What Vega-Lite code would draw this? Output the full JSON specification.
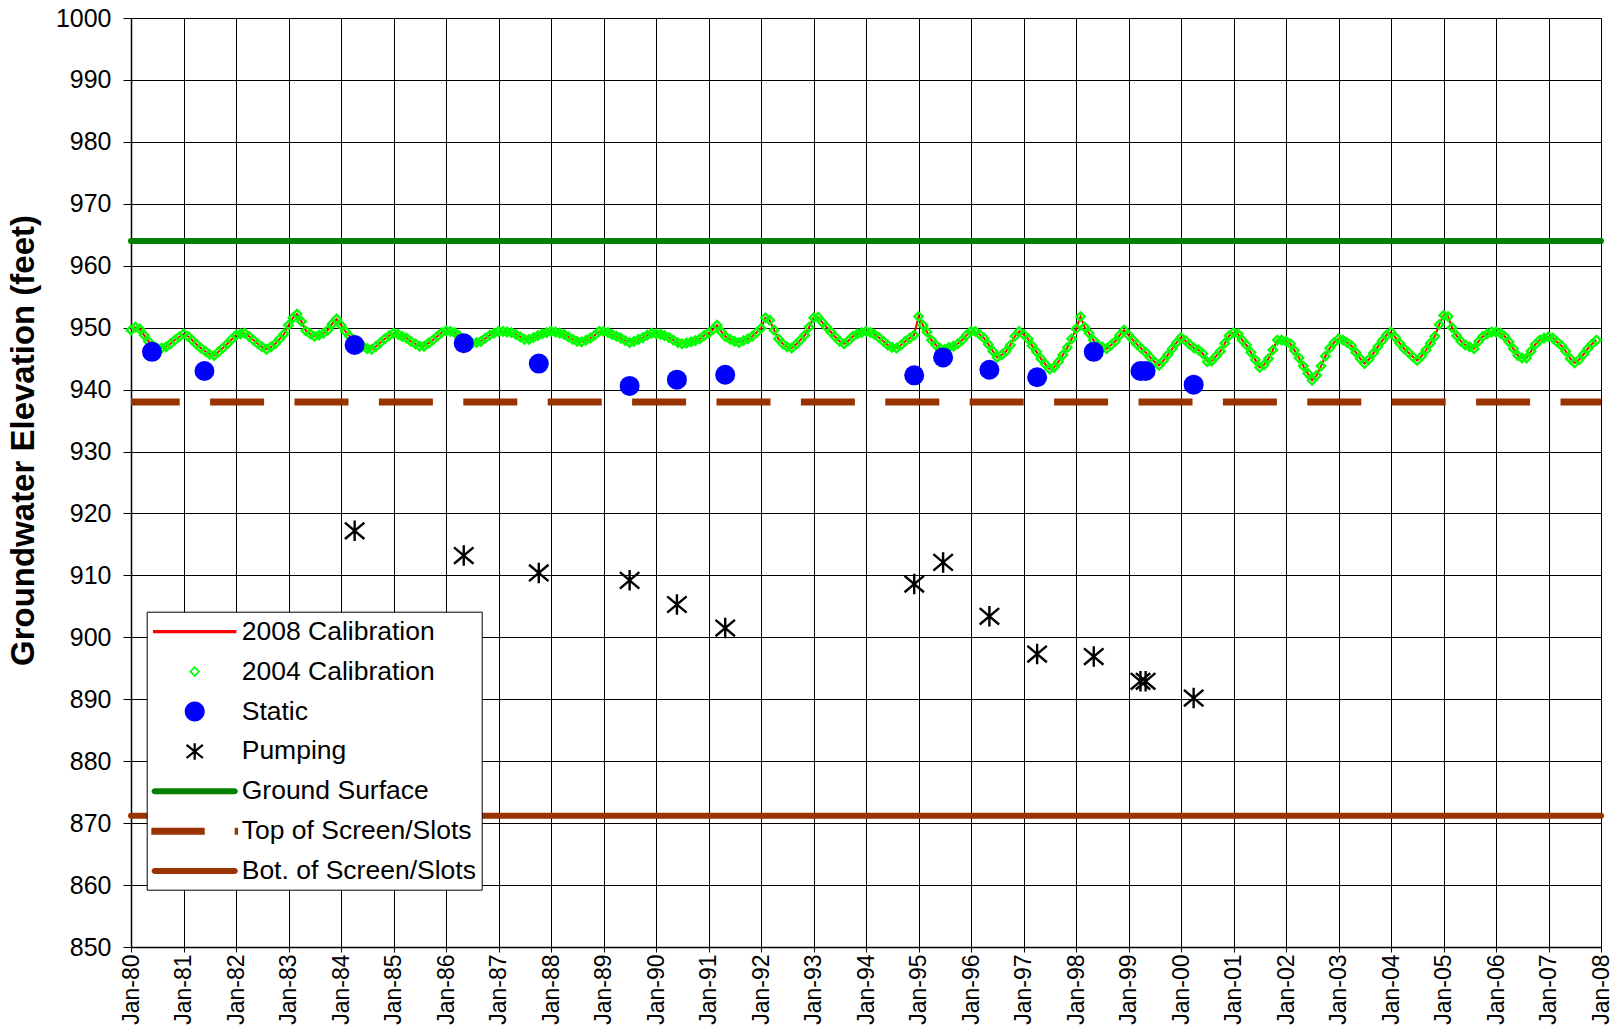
{
"$schema":"https://vega.github.io/schema/vega-lite/v6.json",
"width":1470,"height":929,
"autosize":{"type":"none"},
"padding":{"left":131,"top":18,"right":15,"bottom":83},
"background":"white",
"config":{"view":{"stroke":"#808080","strokeWidth":1},"font":"Liberation Sans"},
"datasets":{
"gs":[{"v":964}],
"top":[{"v":938}],
"bot":[{"v":871.2}],
"cal":[
{"d":"1980-01","v":949.6},{"d":"1980-02","v":950.1},{"d":"1980-03","v":949.8},{"d":"1980-04","v":948.8},{"d":"1980-05","v":947.8},{"d":"1980-06","v":947.1},{"d":"1980-07","v":946.7},{"d":"1980-08","v":946.7},{"d":"1980-09","v":946.9},{"d":"1980-10","v":947.4},{"d":"1980-11","v":948.0},{"d":"1980-12","v":948.5},
{"d":"1981-01","v":949.0},{"d":"1981-02","v":948.6},{"d":"1981-03","v":948.0},{"d":"1981-04","v":947.3},{"d":"1981-05","v":946.7},{"d":"1981-06","v":946.2},{"d":"1981-07","v":945.7},{"d":"1981-08","v":945.5},{"d":"1981-09","v":946.1},{"d":"1981-10","v":946.7},{"d":"1981-11","v":947.4},{"d":"1981-12","v":948.1},
{"d":"1982-01","v":948.8},{"d":"1982-02","v":949.0},{"d":"1982-03","v":949.1},{"d":"1982-04","v":948.6},{"d":"1982-05","v":948.0},{"d":"1982-06","v":947.4},{"d":"1982-07","v":946.9},{"d":"1982-08","v":946.5},{"d":"1982-09","v":946.9},{"d":"1982-10","v":947.4},{"d":"1982-11","v":948.2},{"d":"1982-12","v":949.0},
{"d":"1983-01","v":950.4},{"d":"1983-02","v":951.6},{"d":"1983-03","v":952.2},{"d":"1983-04","v":951.0},{"d":"1983-05","v":949.5},{"d":"1983-06","v":949.0},{"d":"1983-07","v":948.6},{"d":"1983-08","v":948.8},{"d":"1983-09","v":949.1},{"d":"1983-10","v":949.6},{"d":"1983-11","v":950.6},{"d":"1983-12","v":951.4},
{"d":"1984-01","v":950.4},{"d":"1984-02","v":949.4},{"d":"1984-03","v":948.6},{"d":"1984-04","v":948.0},{"d":"1984-05","v":947.5},{"d":"1984-06","v":947.0},{"d":"1984-07","v":946.6},{"d":"1984-08","v":946.5},{"d":"1984-09","v":947.0},{"d":"1984-10","v":947.6},{"d":"1984-11","v":948.2},{"d":"1984-12","v":948.7},
{"d":"1985-01","v":949.1},{"d":"1985-02","v":948.9},{"d":"1985-03","v":948.6},{"d":"1985-04","v":948.3},{"d":"1985-05","v":947.8},{"d":"1985-06","v":947.4},{"d":"1985-07","v":947.0},{"d":"1985-08","v":947.0},{"d":"1985-09","v":947.5},{"d":"1985-10","v":948.0},{"d":"1985-11","v":948.6},{"d":"1985-12","v":949.2},
{"d":"1986-01","v":949.5},{"d":"1986-02","v":949.4},{"d":"1986-03","v":949.2},{"d":"1986-04","v":948.7},{"d":"1986-05","v":948.1},{"d":"1986-06","v":947.6},{"d":"1986-07","v":947.5},{"d":"1986-08","v":947.6},{"d":"1986-09","v":947.8},{"d":"1986-10","v":948.3},{"d":"1986-11","v":948.8},{"d":"1986-12","v":949.1},
{"d":"1987-01","v":949.4},{"d":"1987-02","v":949.4},{"d":"1987-03","v":949.3},{"d":"1987-04","v":949.2},{"d":"1987-05","v":948.9},{"d":"1987-06","v":948.5},{"d":"1987-07","v":948.1},{"d":"1987-08","v":948.1},{"d":"1987-09","v":948.4},{"d":"1987-10","v":948.7},{"d":"1987-11","v":949.0},{"d":"1987-12","v":949.2},
{"d":"1988-01","v":949.4},{"d":"1988-02","v":949.3},{"d":"1988-03","v":949.1},{"d":"1988-04","v":948.9},{"d":"1988-05","v":948.5},{"d":"1988-06","v":948.1},{"d":"1988-07","v":947.8},{"d":"1988-08","v":947.7},{"d":"1988-09","v":948.0},{"d":"1988-10","v":948.3},{"d":"1988-11","v":948.8},{"d":"1988-12","v":949.4},
{"d":"1989-01","v":949.4},{"d":"1989-02","v":949.2},{"d":"1989-03","v":948.9},{"d":"1989-04","v":948.6},{"d":"1989-05","v":948.3},{"d":"1989-06","v":947.9},{"d":"1989-07","v":947.6},{"d":"1989-08","v":947.8},{"d":"1989-09","v":948.1},{"d":"1989-10","v":948.4},{"d":"1989-11","v":948.8},{"d":"1989-12","v":949.1},
{"d":"1990-01","v":949.0},{"d":"1990-02","v":948.9},{"d":"1990-03","v":948.7},{"d":"1990-04","v":948.4},{"d":"1990-05","v":948.0},{"d":"1990-06","v":947.6},{"d":"1990-07","v":947.4},{"d":"1990-08","v":947.5},{"d":"1990-09","v":947.7},{"d":"1990-10","v":947.9},{"d":"1990-11","v":948.2},{"d":"1990-12","v":948.7},
{"d":"1991-01","v":949.1},{"d":"1991-02","v":949.7},{"d":"1991-03","v":950.4},{"d":"1991-04","v":949.3},{"d":"1991-05","v":948.5},{"d":"1991-06","v":948.1},{"d":"1991-07","v":947.8},{"d":"1991-08","v":947.6},{"d":"1991-09","v":947.9},{"d":"1991-10","v":948.2},{"d":"1991-11","v":948.6},{"d":"1991-12","v":949.2},
{"d":"1992-01","v":949.9},{"d":"1992-02","v":951.6},{"d":"1992-03","v":951.2},{"d":"1992-04","v":949.6},{"d":"1992-05","v":948.2},{"d":"1992-06","v":947.4},{"d":"1992-07","v":946.9},{"d":"1992-08","v":946.7},{"d":"1992-09","v":947.3},{"d":"1992-10","v":948.0},{"d":"1992-11","v":948.8},{"d":"1992-12","v":950.1},
{"d":"1993-01","v":951.6},{"d":"1993-02","v":951.7},{"d":"1993-03","v":950.9},{"d":"1993-04","v":950.1},{"d":"1993-05","v":949.3},{"d":"1993-06","v":948.5},{"d":"1993-07","v":947.8},{"d":"1993-08","v":947.4},{"d":"1993-09","v":947.9},{"d":"1993-10","v":948.6},{"d":"1993-11","v":949.0},{"d":"1993-12","v":949.2},
{"d":"1994-01","v":949.4},{"d":"1994-02","v":949.2},{"d":"1994-03","v":948.9},{"d":"1994-04","v":948.4},{"d":"1994-05","v":947.8},{"d":"1994-06","v":947.2},{"d":"1994-07","v":946.8},{"d":"1994-08","v":946.7},{"d":"1994-09","v":947.2},{"d":"1994-10","v":947.8},{"d":"1994-11","v":948.3},{"d":"1994-12","v":948.8},
{"d":"1995-01","v":951.8},{"d":"1995-02","v":950.4},{"d":"1995-03","v":949.3},{"d":"1995-04","v":948.0},{"d":"1995-05","v":947.2},{"d":"1995-06","v":946.6},{"d":"1995-07","v":946.5},{"d":"1995-08","v":946.8},{"d":"1995-09","v":947.0},{"d":"1995-10","v":947.4},{"d":"1995-11","v":948.0},{"d":"1995-12","v":948.8},
{"d":"1996-01","v":949.4},{"d":"1996-02","v":949.4},{"d":"1996-03","v":948.9},{"d":"1996-04","v":948.3},{"d":"1996-05","v":947.3},{"d":"1996-06","v":946.2},{"d":"1996-07","v":945.2},{"d":"1996-08","v":945.6},{"d":"1996-09","v":946.2},{"d":"1996-10","v":947.2},{"d":"1996-11","v":948.6},{"d":"1996-12","v":949.4},
{"d":"1997-01","v":948.9},{"d":"1997-02","v":948.2},{"d":"1997-03","v":947.1},{"d":"1997-04","v":946.1},{"d":"1997-05","v":945.0},{"d":"1997-06","v":944.1},{"d":"1997-07","v":943.3},{"d":"1997-08","v":943.6},{"d":"1997-09","v":944.5},{"d":"1997-10","v":945.6},{"d":"1997-11","v":946.8},{"d":"1997-12","v":948.2},
{"d":"1998-01","v":949.8},{"d":"1998-02","v":951.8},{"d":"1998-03","v":950.1},{"d":"1998-04","v":949.1},{"d":"1998-05","v":948.0},{"d":"1998-06","v":947.2},{"d":"1998-07","v":946.9},{"d":"1998-08","v":946.6},{"d":"1998-09","v":947.2},{"d":"1998-10","v":947.8},{"d":"1998-11","v":948.8},{"d":"1998-12","v":949.6},
{"d":"1999-01","v":948.8},{"d":"1999-02","v":948.0},{"d":"1999-03","v":947.3},{"d":"1999-04","v":946.6},{"d":"1999-05","v":946.0},{"d":"1999-06","v":945.2},{"d":"1999-07","v":944.5},{"d":"1999-08","v":943.9},{"d":"1999-09","v":944.7},{"d":"1999-10","v":945.6},{"d":"1999-11","v":946.6},{"d":"1999-12","v":947.6},
{"d":"2000-01","v":948.4},{"d":"2000-02","v":947.9},{"d":"2000-03","v":947.3},{"d":"2000-04","v":946.7},{"d":"2000-05","v":946.4},{"d":"2000-06","v":945.8},{"d":"2000-07","v":944.5},{"d":"2000-08","v":944.6},{"d":"2000-09","v":945.4},{"d":"2000-10","v":946.2},{"d":"2000-11","v":947.5},{"d":"2000-12","v":948.7},
{"d":"2001-01","v":949.2},{"d":"2001-02","v":949.0},{"d":"2001-03","v":948.0},{"d":"2001-04","v":947.2},{"d":"2001-05","v":946.0},{"d":"2001-06","v":944.8},{"d":"2001-07","v":943.6},{"d":"2001-08","v":944.0},{"d":"2001-09","v":945.0},{"d":"2001-10","v":946.4},{"d":"2001-11","v":948.0},{"d":"2001-12","v":948.0},
{"d":"2002-01","v":947.8},{"d":"2002-02","v":947.4},{"d":"2002-03","v":946.3},{"d":"2002-04","v":945.1},{"d":"2002-05","v":943.8},{"d":"2002-06","v":942.6},{"d":"2002-07","v":941.5},{"d":"2002-08","v":942.3},{"d":"2002-09","v":943.8},{"d":"2002-10","v":945.4},{"d":"2002-11","v":946.7},{"d":"2002-12","v":947.6},
{"d":"2003-01","v":948.2},{"d":"2003-02","v":948.0},{"d":"2003-03","v":947.6},{"d":"2003-04","v":947.1},{"d":"2003-05","v":946.0},{"d":"2003-06","v":945.0},{"d":"2003-07","v":944.2},{"d":"2003-08","v":944.9},{"d":"2003-09","v":945.9},{"d":"2003-10","v":946.9},{"d":"2003-11","v":947.9},{"d":"2003-12","v":948.8},
{"d":"2004-01","v":949.3},{"d":"2004-02","v":948.4},{"d":"2004-03","v":947.5},{"d":"2004-04","v":946.6},{"d":"2004-05","v":946.0},{"d":"2004-06","v":945.3},{"d":"2004-07","v":944.7},{"d":"2004-08","v":945.4},{"d":"2004-09","v":946.4},{"d":"2004-10","v":947.5},{"d":"2004-11","v":948.6},{"d":"2004-12","v":950.5},
{"d":"2005-01","v":952.0},{"d":"2005-02","v":951.8},{"d":"2005-03","v":950.0},{"d":"2005-04","v":948.7},{"d":"2005-05","v":947.8},{"d":"2005-06","v":947.2},{"d":"2005-07","v":946.9},{"d":"2005-08","v":946.6},{"d":"2005-09","v":947.8},{"d":"2005-10","v":948.6},{"d":"2005-11","v":949.0},{"d":"2005-12","v":949.3},
{"d":"2006-01","v":949.3},{"d":"2006-02","v":949.1},{"d":"2006-03","v":948.6},{"d":"2006-04","v":947.7},{"d":"2006-05","v":946.6},{"d":"2006-06","v":945.5},{"d":"2006-07","v":945.1},{"d":"2006-08","v":945.1},{"d":"2006-09","v":946.2},{"d":"2006-10","v":947.3},{"d":"2006-11","v":948.0},{"d":"2006-12","v":948.3},
{"d":"2007-01","v":948.5},{"d":"2007-02","v":948.3},{"d":"2007-03","v":947.7},{"d":"2007-04","v":947.1},{"d":"2007-05","v":946.2},{"d":"2007-06","v":945.0},{"d":"2007-07","v":944.3},{"d":"2007-08","v":944.8},{"d":"2007-09","v":945.7},{"d":"2007-10","v":946.6},{"d":"2007-11","v":947.4},{"d":"2007-12","v":948.0}
],
"stat":[
{"d":"1980-05-26","v":946.1},{"d":"1981-05-26","v":943.0},{"d":"1984-04-05","v":947.2},{"d":"1986-05-04","v":947.5},{"d":"1987-10-08","v":944.2},{"d":"1989-07-01","v":940.6},{"d":"1990-05-26","v":941.6},{"d":"1991-04-27","v":942.4},{"d":"1994-12-02","v":942.3},{"d":"1995-06-21","v":945.2},{"d":"1996-05-08","v":943.2},{"d":"1997-04-05","v":942.0},{"d":"1998-05-04","v":946.1},{"d":"1999-03-25","v":943.0},{"d":"1999-04-30","v":943.0},{"d":"2000-03-29","v":940.8}
],
"pump":[
{"d":"1984-04-05","v":917.2},{"d":"1986-05-04","v":913.2},{"d":"1987-10-08","v":910.4},{"d":"1989-07-01","v":909.2},{"d":"1990-05-26","v":905.3},{"d":"1991-04-27","v":901.5},{"d":"1994-12-02","v":908.6},{"d":"1995-06-21","v":912.1},{"d":"1996-05-08","v":903.4},{"d":"1997-04-05","v":897.3},{"d":"1998-05-04","v":896.9},{"d":"1999-03-25","v":892.9},{"d":"1999-04-30","v":892.9},{"d":"2000-03-29","v":890.2}
]
},
"layer":[
{"data":{"name":"gs"},"mark":{"type":"rule","color":"#008000","strokeWidth":6,"strokeCap":"round"},
 "encoding":{"y":{"field":"v","type":"quantitative","scale":{"domain":[850,1000],"nice":false,"zero":false},
   "axis":{"values":[850,860,870,880,890,900,910,920,930,940,950,960,970,980,990,1000],"format":"d","title":"Groundwater Elevation (feet)","titleFont":"Liberation Sans","titleFontSize":33,"titleFontWeight":"bold","titleColor":"black","titleX":-108,"titleY":422,"titleAlign":"center","titleBaseline":"middle","titleAngle":-90,
    "labelFont":"Liberation Sans","labelFontSize":25,"labelColor":"black","labelPadding":12,"tickSize":8,"tickColor":"black","domainColor":"black","domainWidth":1.5,"grid":true,"gridColor":"black","gridWidth":1,"labelOverlap":false}}}},
{"data":{"name":"bot"},"mark":{"type":"rule","color":"#993300","strokeWidth":6,"strokeCap":"round"},"encoding":{"y":{"field":"v","type":"quantitative"}}},
{"data":{"name":"top"},"mark":{"type":"rule","color":"#993300","strokeWidth":7,"strokeDash":[54,30.4],"strokeDashOffset":13.5},"encoding":{"y":{"field":"v","type":"quantitative"}}},
{"data":{"name":"cal"},"mark":{"type":"line","color":"#ff0000","strokeWidth":2},
 "encoding":{
  "x":{"field":"d","type":"temporal",
   "scale":{"type":"utc","domain":[{"year":1980,"month":1,"date":1,"utc":true},{"year":2008,"month":1,"date":1,"utc":true}]},
   "axis":{"values":[{"year":1980,"month":1,"date":1,"utc":true},{"year":1981,"month":1,"date":1,"utc":true},{"year":1982,"month":1,"date":1,"utc":true},{"year":1983,"month":1,"date":1,"utc":true},{"year":1984,"month":1,"date":1,"utc":true},{"year":1985,"month":1,"date":1,"utc":true},{"year":1986,"month":1,"date":1,"utc":true},{"year":1987,"month":1,"date":1,"utc":true},{"year":1988,"month":1,"date":1,"utc":true},{"year":1989,"month":1,"date":1,"utc":true},{"year":1990,"month":1,"date":1,"utc":true},{"year":1991,"month":1,"date":1,"utc":true},{"year":1992,"month":1,"date":1,"utc":true},{"year":1993,"month":1,"date":1,"utc":true},{"year":1994,"month":1,"date":1,"utc":true},{"year":1995,"month":1,"date":1,"utc":true},{"year":1996,"month":1,"date":1,"utc":true},{"year":1997,"month":1,"date":1,"utc":true},{"year":1998,"month":1,"date":1,"utc":true},{"year":1999,"month":1,"date":1,"utc":true},{"year":2000,"month":1,"date":1,"utc":true},{"year":2001,"month":1,"date":1,"utc":true},{"year":2002,"month":1,"date":1,"utc":true},{"year":2003,"month":1,"date":1,"utc":true},{"year":2004,"month":1,"date":1,"utc":true},{"year":2005,"month":1,"date":1,"utc":true},{"year":2006,"month":1,"date":1,"utc":true},{"year":2007,"month":1,"date":1,"utc":true},{"year":2008,"month":1,"date":1,"utc":true}],
    "format":"%b-%y","labelAngle":-90,"labelFont":"Liberation Sans","labelFontSize":23,"labelColor":"black","labelPadding":2,"tickSize":5,"tickColor":"black","domainColor":"black","domainWidth":1.5,"grid":true,"gridColor":"black","gridWidth":1,"title":null,"labelFlush":false,"labelOverlap":false}},
  "y":{"field":"v","type":"quantitative"}
 }},
{"data":{"name":"cal"},"mark":{"type":"point","shape":"diamond","filled":false,"color":"#00ff00","strokeWidth":2.4,"size":70,"opacity":1},"encoding":{"x":{"field":"d","type":"temporal"},"y":{"field":"v","type":"quantitative"}}},
{"data":{"name":"stat"},"mark":{"type":"point","shape":"circle","filled":true,"color":"#0000ff","size":400,"opacity":1},"encoding":{"x":{"field":"d","type":"temporal"},"y":{"field":"v","type":"quantitative"}}},
{"data":{"name":"pump"},"mark":{"type":"point","shape":"M0,-1L0,1M-0.95,-0.8L0.95,0.8M-0.95,0.8L0.95,-0.8","filled":false,"color":"#000000","strokeWidth":2.4,"size":420,"opacity":1},"encoding":{"x":{"field":"d","type":"temporal"},"y":{"field":"v","type":"quantitative"}}},
{"data":{"values":[]},"mark":{"type":"point","filled":true,"opacity":1,"strokeWidth":0},
 "encoding":{
  "fill":{"field":"s","type":"nominal",
   "scale":{"domain":["2008 Calibration","2004 Calibration","Static","Pumping","Ground Surface","Top of Screen/Slots","Bot. of Screen/Slots"],"range":["#ff0000","#00ff00","#0000ff","#000000","#008000","#993300","#993300"]},
   "legend":{"title":null,"orient":"none","legendX":15.7,"legendY":593.7,"direction":"vertical","symbolSize":900,"symbolStrokeWidth":0,"symbolOffset":28,"labelOffset":32,"labelFont":"Liberation Sans","labelFontSize":26.5,"labelColor":"black","labelLimit":500,"rowPadding":10.9,"padding":5,"strokeColor":"black","fillColor":"white","cornerRadius":0,"symbolOpacity":1}},
  "shape":{"field":"s","type":"nominal",
   "scale":{"domain":["2008 Calibration","2004 Calibration","Static","Pumping","Ground Surface","Top of Screen/Slots","Bot. of Screen/Slots"],"range":[
    "M-2.78,-0.11H2.78V0.11H-2.78Z",
    "M0,-0.37L0.37,0L0,0.37L-0.37,0ZM0,-0.21L-0.21,0L0,0.21L0.21,0Z",
    "M0.667,0A0.667,0.667,0,1,1,-0.667,0A0.667,0.667,0,1,1,0.667,0Z",
    "M-0.075,-0.55V0.55H0.075V-0.55ZM-0.594,-0.385L0.496,0.495L0.594,0.385L-0.496,-0.495ZM-0.496,0.495L0.594,-0.385L0.496,-0.495L-0.594,0.385Z",
    "M-2.67,-0.2H2.67A0.2,0.2,0,0,1,2.67,0.2H-2.67A0.2,0.2,0,0,1,-2.67,-0.2Z",
    "M-2.89,-0.233H0.667V0.233H-2.89ZM2.667,-0.233H2.89V0.233H2.667Z",
    "M-2.67,-0.2H2.67A0.2,0.2,0,0,1,2.67,0.2H-2.67A0.2,0.2,0,0,1,-2.67,-0.2Z"]},
   "legend":{"title":null,"orient":"none","legendX":15.7,"legendY":593.7,"direction":"vertical","symbolSize":900,"symbolStrokeWidth":0,"symbolOffset":28,"labelOffset":32,"labelFont":"Liberation Sans","labelFontSize":26.5,"labelColor":"black","labelLimit":500,"rowPadding":10.9,"padding":5,"strokeColor":"black","fillColor":"white","cornerRadius":0,"symbolOpacity":1}}
 }}
]
}
